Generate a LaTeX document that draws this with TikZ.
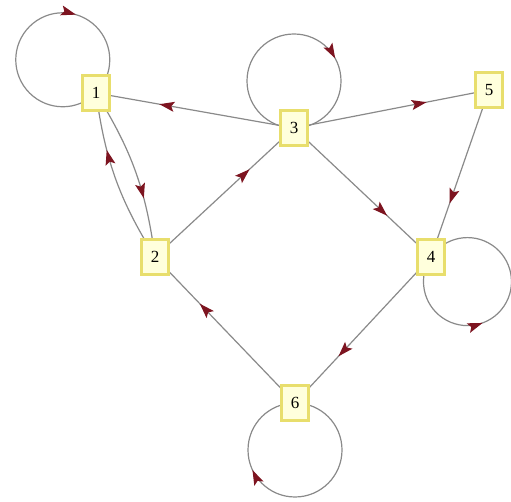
\documentclass[tikz,border=0pt]{standalone}
\usepackage{fontspec}
\setmainfont{Liberation Serif}
\usetikzlibrary{arrows.meta,decorations.markings}
\pgfdeclarelayer{bg}
\pgfsetlayers{bg,main}
\definecolor{edgegray}{HTML}{8A8A8A}
\definecolor{tipred}{HTML}{7D1420}
\definecolor{boxborder}{HTML}{E8DE6C}
\definecolor{boxfill}{HTML}{FFFFDC}
\tikzset{
  vbox/.style={draw=boxborder, fill=boxfill, line width=2.8pt, minimum width=27pt, minimum height=35pt, inner sep=0pt, font=\fontsize{17}{17}\selectfont},
  edgeline/.style={draw=edgegray, line width=1.2pt},
  tipat/.style={postaction={decorate}, decoration={markings, mark=at position #1 with {\arrow{Stealth[length=15pt,width=10pt,inset=3pt,color=tipred]}}}},
}
\begin{document}
\begin{tikzpicture}[x=1pt,y=1pt]
\useasboundingbox (0,0) rectangle (511,502);
\node[vbox] (n1) at (96,409) {1};
\node[vbox] (n2) at (155,245) {2};
\node[vbox] (n3) at (294,374) {3};
\node[vbox] (n4) at (431,245) {4};
\node[vbox] (n5) at (489,412) {5};
\node[vbox] (n6) at (295,99) {6};
\begin{pgfonlayer}{bg}
  % self loops
  \draw[edgeline,tipat=0.67] (n1.center) arc[start angle=-45, end angle=-405, radius=47];
  \draw[edgeline,tipat=0.67] (n3.center) arc[start angle=-90, end angle=-450, radius=47];
  \draw[edgeline,tipat=0.40] (n4.center) arc[start angle=146, end angle=506, radius=44];
  \draw[edgeline,tipat=0.68] (n6.center) arc[start angle=90, end angle=-270, radius=47];
  % straight edges
  \draw[edgeline,tipat=0.68] (n3.center) -- (n1.center);
  \draw[edgeline,tipat=0.68] (n3.center) -- (n5.center);
  \draw[edgeline,tipat=0.68] (n5.center) -- (n4.center);
  \draw[edgeline,tipat=0.68] (n3.center) -- (n4.center);
  \draw[edgeline,tipat=0.68] (n2.center) -- (n3.center);
  \draw[edgeline,tipat=0.68] (n4.center) -- (n6.center);
  \draw[edgeline,tipat=0.68] (n6.center) -- (n2.center);
  % curved pair
  \draw[edgeline,tipat=0.66] (n1.center) to[bend left=12] (n2.center);
  \draw[edgeline,tipat=0.67] (n2.center) to[bend left=12] (n1.center);
\end{pgfonlayer}
\end{tikzpicture}
\end{document}
